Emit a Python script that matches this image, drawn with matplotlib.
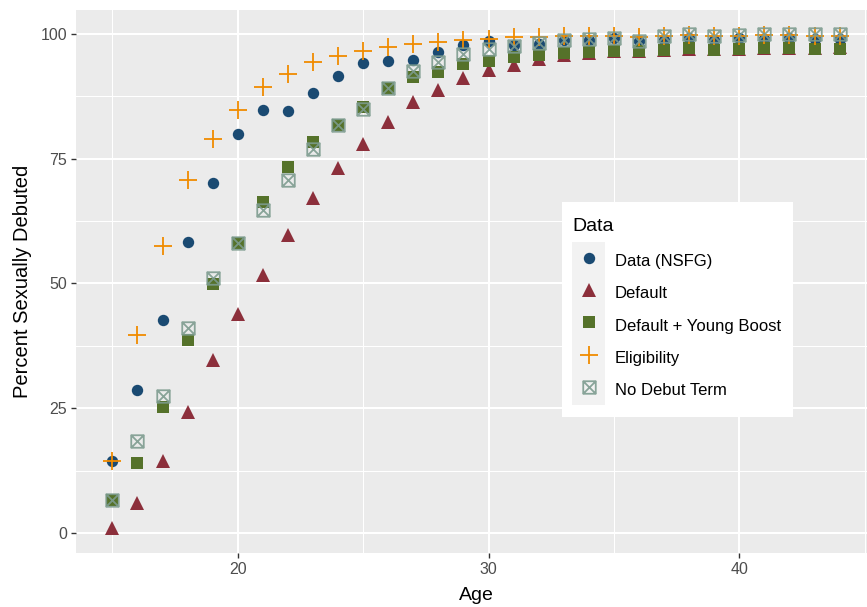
import matplotlib
matplotlib.use("Agg")
import matplotlib.pyplot as plt
from matplotlib.path import Path
from matplotlib.patches import Rectangle
from matplotlib.lines import Line2D

plt.rcParams['font.family'] = ['Liberation Sans', 'DejaVu Sans']

# share of women who have debuted, by age
age = list(range(15, 45))
nsfg = [14.5, 28.7, 42.6, 58.3, 70.2, 79.9, 84.8, 84.6, 88.1, 91.5,
        94.2, 94.5, 94.7, 96.4, 97.7, 98.5, 97.7, 98.0, 98.7, 98.8,
        99.2, 98.6, 98.8, 99.2, 98.8, 99.2, 98.9, 99.2, 98.9, 98.9]
default = [1.0, 6.0, 14.5, 24.3, 34.6, 43.8, 51.7, 59.8, 67.1, 73.2,
           77.9, 82.3, 86.3, 88.7, 91.2, 92.8, 93.8, 95.0, 95.8, 96.2,
           96.5, 96.6, 96.8, 96.9, 96.9, 97.0, 97.1, 97.2, 97.2, 97.3]
young_boost = [6.6, 14.0, 25.3, 38.7, 49.8, 58.1, 66.3, 73.4, 78.4, 81.8,
               85.4, 89.1, 91.4, 92.3, 94.0, 94.6, 95.3, 95.8, 96.2, 96.4,
               96.6, 96.6, 96.8, 97.2, 96.8, 97.0, 97.2, 97.2, 97.0, 97.0]
eligibility = [14.5, 39.6, 57.5, 70.7, 78.9, 84.8, 89.4, 91.9, 94.3, 95.5,
               96.5, 97.4, 98.0, 98.4, 98.7, 99.0, 99.3, 99.3, 99.5, 99.5,
               99.6, 99.4, 99.6, 99.8, 99.6, 99.6, 99.7, 99.7, 99.6, 99.6]
no_debut = [6.6, 18.4, 27.5, 41.0, 51.1, 58.1, 64.7, 70.8, 77.0, 81.8,
            84.9, 89.1, 92.6, 94.3, 95.9, 96.9, 97.5, 98.2, 98.7, 98.9,
            99.2, 98.5, 99.5, 99.9, 99.5, 99.7, 100.0, 100.0, 100.0, 100.0]

labels = ['Data (NSFG)', 'Default', 'Default + Young Boost',
          'Eligibility', 'No Debut Term']

# square with both diagonals (ggplot shape 7)
box_x = Path([(-1, -1), (1, -1), (1, 1), (-1, 1), (-1, -1),
              (-1, -1), (1, 1), (-1, 1), (1, -1)],
             [Path.MOVETO, Path.LINETO, Path.LINETO, Path.LINETO, Path.CLOSEPOLY,
              Path.MOVETO, Path.LINETO, Path.MOVETO, Path.LINETO])

styles = [
    dict(marker='o', ms=8.2, color='#1A4A72', mew=0),
    dict(marker='^', ms=10, color='#8C2F3B', mew=0),
    dict(marker='s', ms=8.6, color='#55722A', mew=0),
    dict(marker='+', ms=13, color='#F08B00', mew=1.3),
    dict(marker=box_x, ms=9, color='#7D9C8F', mfc='none', mew=1.3, alpha=0.9),
]
series = [nsfg, default, young_boost, eligibility, no_debut]

fig = plt.figure(figsize=(8.67, 6.07), dpi=100)
W, H = 867, 607
ax = fig.add_axes([76 / W, 1 - 553 / H, 800 / W, 543 / H])
ax.set_facecolor('#EBEBEB')

for vals, st in zip(series, styles):
    ax.plot(age, vals, linestyle='none', **st)

ax.set_xlim(13.55, 45.45)
ax.set_ylim(-4.0, 104.8)
ax.set_xticks([20, 30, 40])
ax.set_xticks([15, 25, 35, 45], minor=True)
ax.set_yticks([0, 25, 50, 75, 100])
ax.set_yticks([12.5, 37.5, 62.5, 87.5], minor=True)
ax.grid(which='major', color='white', linewidth=1.5)
ax.grid(which='minor', color='white', linewidth=0.75)
ax.set_axisbelow(True)
for s in ax.spines.values():
    s.set_visible(False)
ax.tick_params(which='major', length=3.5, width=1, color='#333333',
               labelcolor='#4D4D4D', labelsize=11.5, pad=3)
ax.tick_params(which='minor', length=0)

ax.set_xlabel('Age', fontsize=14, labelpad=7)
ax.set_ylabel('Percent Sexually Debuted', fontsize=14.5, labelpad=6)

# legend box: white panel and grey key column behind the legend entries
fig.patches.append(Rectangle((562 / W, 1 - 417 / H), 231 / W, 215 / H,
                             transform=fig.transFigure, facecolor='white',
                             edgecolor='none', zorder=3))
fig.patches.append(Rectangle((572 / W, 1 - 405 / H), 33 / W, 163 / H,
                             transform=fig.transFigure, facecolor='#F2F2F2',
                             edgecolor='none', zorder=4))
fig.text(572 / W, 1 - 226 / H, 'Data', fontsize=14, va='center', ha='left',
         zorder=5)

handles = [Line2D([], [], linestyle='none', **st) for st in styles]
leg = fig.legend(handles, labels, loc='upper left',
                 bbox_to_anchor=(572 / W, 1 - 249.5 / H), frameon=False,
                 fontsize=12, borderpad=0, borderaxespad=0,
                 handlelength=1.98, handleheight=1.6, handletextpad=0.6,
                 labelspacing=0.66, numpoints=1)
leg.set_zorder(5)

fig.savefig('out.png', dpi=100)
